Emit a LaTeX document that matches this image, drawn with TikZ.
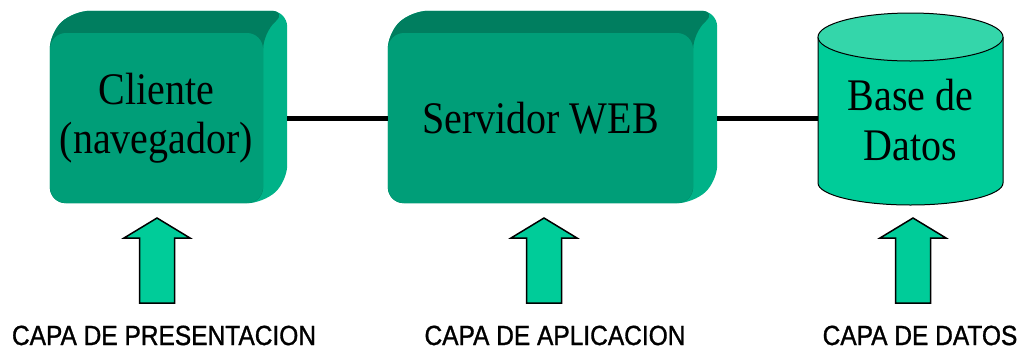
\documentclass[tikz,border=0pt]{standalone}
\usepackage{fontspec}
\setmainfont{Liberation Serif}
\newfontfamily\lsans[FakeBold=1.2]{Liberation Sans}
\pgfdeclarelayer{background}
\pgfsetlayers{background,main}
\definecolor{frontc}{RGB}{0,158,120}
\definecolor{topc}{RGB}{0,126,95}
\definecolor{sidec}{RGB}{0,178,136}
\definecolor{cylbody}{RGB}{0,204,153}
\definecolor{cyltop}{RGB}{52,214,170}
\definecolor{arrowc}{RGB}{0,204,153}
\newcommand\vsc[1]{\scalebox{1}[1.13]{#1}}
\newcommand\extrude[2]{%
  \begin{pgfonlayer}{background}
    \fill[sidec, rounded corners=16pt] (#1.south west) -- (#1.north west) -- (#2.north west) -- (#2.north east) -- (#2.south east) -- (#1.south east) -- cycle;
    \fill[topc, rounded corners=16pt] (#1.south west) -- (#1.north west) -- (#2.north west) -- (#2.north east) -- (#1.north east) -- (#1.south east) -- cycle;
  \end{pgfonlayer}}
\begin{document}
\begin{tikzpicture}[x=1pt,y=-1pt,
  face/.style={rectangle, rounded corners=16pt, fill=frontc, inner sep=0pt, align=center, font=\fontsize{40}{49}\selectfont},
  backface/.style={rectangle, rounded corners=16pt, inner sep=0pt},
  link/.style={line width=5pt, black},
  fatarrow/.style={fill=arrowc, draw=black, line width=1.5pt, line join=miter},
  lbl/.style={anchor=base, font=\lsans\fontsize{24.5}{28}\selectfont, inner sep=0pt},
  cyl/.style={draw=black, line width=1pt}]
\begin{pgfonlayer}{background}
\fill[white] (0,0) rectangle (1021,349);
\end{pgfonlayer}
\useasboundingbox (0,0) rectangle (1021,349);

% Cliente box
\node[face, minimum width=213pt, minimum height=170pt] (cli) at (156.5,118) {\vsc{Cliente}\\\vsc{(navegador)}};
\node[backface, minimum width=213pt, minimum height=170pt] (cliB) at (180.5,96) {};
\extrude{cli}{cliB}

% Servidor box
\node[face, minimum width=305pt, minimum height=170pt] (srv) at (540.5,118) {\vsc{Servidor WEB}};
\node[backface, minimum width=305pt, minimum height=170pt] (srvB) at (564.5,96) {};
\extrude{srv}{srvB}

% Database cylinder
\fill[cylbody] (818,37) -- (818,183) arc[start angle=180, end angle=360, x radius=92.5pt, y radius=22pt] -- (1003,37) -- cycle;
\draw[cyl] (818,37) -- (818,183) arc[start angle=180, end angle=360, x radius=92.5pt, y radius=22pt] -- (1003,37);
\filldraw[cyl, fill=cyltop] (910.5,37) ellipse[x radius=92.5pt, y radius=24pt];
\node[inner sep=0pt, minimum width=185pt, align=center, font=\fontsize{40}{50}\selectfont] (db) at (910.5,120) {\vsc{Base de}\\\vsc{Datos}};

% connectors
\draw[link] (cliB.east |- cli.center) -- (srv.west);
\draw[link] (srvB.east |- srv.center) -- (db.west |- srv.center);

% layer labels
\node[lbl] (lp) at (164,345) {\vsc{CAPA DE PRESENTACION}};
\node[lbl] (la) at (555,345) {\vsc{CAPA DE APLICACION}};
\node[lbl] (ld) at (920,345) {\vsc{CAPA DE DATOS}};

% fat arrows
\coordinate (a1) at (157,303);
\coordinate (a2) at (544,303);
\coordinate (a3) at (913,303);
\foreach \a in {a1,a2,a3}
  \draw[fatarrow] (\a) ++(-17.5,0) -- ++(0,-65) -- ++(-15.5,0) -- ++(33,-20) -- ++(33,20) -- ++(-15.5,0) -- ++(0,65) -- cycle;
\end{tikzpicture}
\end{document}
